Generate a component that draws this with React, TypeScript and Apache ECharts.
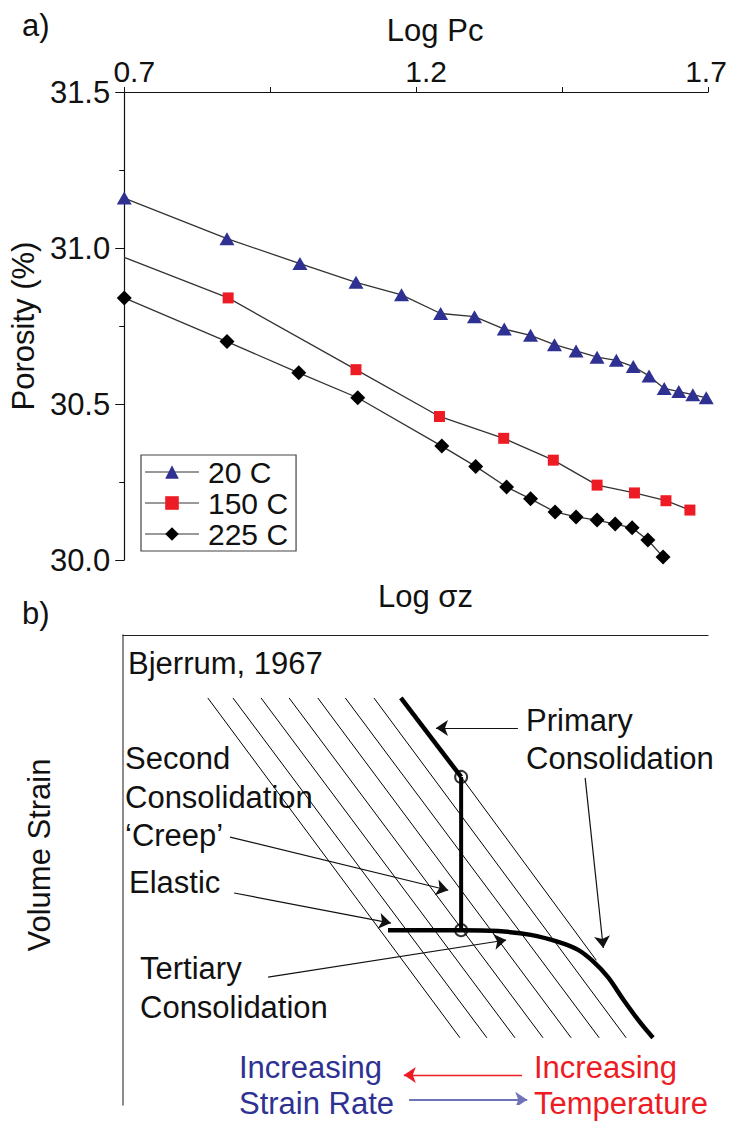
import React, { useEffect, useRef } from "react";
import * as echarts from "echarts";

// ---------- Panel a) data ----------
const seriesNames = ["20 C", "150 C", "225 C"];
const logPc20 = [0.70, 0.876, 1.001, 1.097, 1.175, 1.242, 1.300, 1.351, 1.396, 1.437, 1.474, 1.510, 1.543, 1.572, 1.599, 1.625, 1.650, 1.674, 1.697];
const porosity20 = [31.16, 31.03, 30.95, 30.89, 30.85, 30.79, 30.78, 30.74, 30.72, 30.69, 30.67, 30.65, 30.64, 30.62, 30.59, 30.55, 30.54, 30.53, 30.52];
const logPc150 = [0.70, 0.878, 1.097, 1.240, 1.350, 1.435, 1.510, 1.574, 1.628, 1.669];
const porosity150 = [30.97, 30.84, 30.61, 30.46, 30.39, 30.32, 30.24, 30.215, 30.19, 30.16];
const logPc225 = [0.70, 0.876, 0.999, 1.100, 1.244, 1.302, 1.355, 1.396, 1.438, 1.474, 1.510, 1.541, 1.570, 1.597, 1.623];
const porosity225 = [30.84, 30.70, 30.60, 30.52, 30.365, 30.30, 30.234, 30.196, 30.154, 30.138, 30.128, 30.115, 30.103, 30.064, 30.01];
const xTickLabels = ["0.7", "1.2", "1.7"];

// ---------- Panel b) schematic (Bjerrum, 1967), 0..100 schematic units ----------
const hatchTopX = [14.5, 18.8, 23.6, 28.4, 33.3, 38.0, 42.9];
const hatchBottomX = [57.6, 62.2, 67.0, 71.8, 76.6, 81.4, 86.0];
const hatchTopY = 13.4;
const hatchBottomY = 85.7;
const primaryLine = [[47.5, 13.4], [57.8, 30.2]];
const creepLine = [[57.8, 30.2], [57.8, 62.8]];
const continuationLine = [[57.8, 30.2], [80.9, 69.2]];
const tertiaryCurve = [[45.3, 62.8], [57.8, 62.8], [64.1, 63.0], [69.7, 63.8], [74.4, 65.3], [77.8, 67.0], [80.5, 69.6], [82.9, 72.8], [85.6, 77.7], [88.5, 82.6], [90.6, 85.7]];
const nodePoints = [[57.8, 30.2], [57.8, 62.8]];
const blackArrows = [
  [[67.5, 19.8], [53.5, 19.8]],
  [[79.0, 30.4], [82.1, 66.6]],
  [[18.3, 43.0], [55.6, 54.3]],
  [[19.0, 54.9], [45.8, 61.3]],
  [[24.8, 72.8], [65.5, 64.9]],
];
const tempArrow = [[68.2, 93.6], [48.0, 93.6]];
const rateArrow = [[48.9, 98.9], [69.1, 98.9]];

const FONT = "'Liberation Sans', Arial, Helvetica, sans-serif";
const BLUE = "#2e3192";
const RED = "#ed1c24";

function txt(text: string, x: number, y: number, fill = "#111", extra: any = {}) {
  return {
    type: "text",
    x,
    y,
    silent: true,
    style: {
      text,
      fill,
      font: `31px ${FONT}`,
      fontSize: 31,
      fontFamily: FONT,
      textAlign: "left",
      textVerticalAlign: "middle",
      verticalAlign: "middle",
      ...extra,
    },
  };
}

export default function App() {
  const ref = useRef<HTMLDivElement>(null);
  useEffect(() => {
    if (!ref.current) return;
    const chart = echarts.init(ref.current, undefined, { renderer: "svg" });
    const zip = (xs: number[], ys: number[]) => xs.map((x, i) => [x, ys[i]]);
    const lineCol = "#333";

    const schematicBase = {
      type: "line",
      xAxisIndex: 1,
      yAxisIndex: 1,
      symbol: "none",
      silent: true,
      z: 3,
    };

    const hatchSeries = hatchTopX.map((x, i) => ({
      ...schematicBase,
      data: [[x, hatchTopY], [hatchBottomX[i], hatchBottomY]],
      lineStyle: { color: "#000", width: 1 },
    }));

    const tickLabelStyle = { fontSize: 30, color: "#111", fontFamily: FONT };

    const option: any = {
      animation: false,
      backgroundColor: "#fff",
      textStyle: { fontFamily: FONT },
      grid: [
        { left: 123, top: 92, width: 585, height: 468 },
        { left: 123, top: 635, width: 585, height: 470 },
      ],
      xAxis: [
        {
          gridIndex: 0,
          type: "value",
          position: "top",
          min: 0.7,
          max: 1.7,
          interval: 0.25,
          name: "Log Pc",
          nameLocation: "middle",
          nameGap: 46,
          nameTextStyle: { fontSize: 31, color: "#111", fontFamily: FONT, padding: [0, 0, 0, 38] },
          axisLine: { show: true, lineStyle: { color: "#111", width: 1.2 } },
          axisTick: { show: true, inside: false, length: 5, lineStyle: { color: "#111" } },
          axisLabel: {
            show: true,
            ...tickLabelStyle,
            margin: 6,
            formatter: (v: number) => {
              const s = v.toFixed(1);
              if (xTickLabels.indexOf(s) < 0 || Math.abs(v * 100 - Math.round(v * 10) * 10) > 1) return "";
              if (s === "1.7") return `{r|${s}}`;
              return `{l|${s}}`;
            },
            rich: {
              l: { ...tickLabelStyle, padding: [0, 0, 0, 20] },
              r: { ...tickLabelStyle, padding: [0, 4, 0, 0] },
            },
          },
          splitLine: { show: false },
        },
        {
          gridIndex: 1,
          type: "value",
          position: "top",
          min: 0,
          max: 100,
          name: "Log σz",
          nameLocation: "middle",
          nameGap: 23,
          nameTextStyle: { fontSize: 31, color: "#111", fontFamily: FONT, padding: [0, 0, 0, 20] },
          axisLine: { show: true, lineStyle: { color: "#222", width: 1.2 } },
          axisTick: { show: false },
          axisLabel: { show: false },
          splitLine: { show: false },
        },
      ],
      yAxis: [
        {
          gridIndex: 0,
          type: "value",
          min: 30.0,
          max: 31.5,
          interval: 0.5,
          name: "Porosity (%)",
          nameLocation: "middle",
          nameGap: 62,
          nameTextStyle: { fontSize: 31, color: "#111", fontFamily: FONT },
          axisLine: { show: true, lineStyle: { color: "#111", width: 1.2 } },
          axisTick: { show: true, inside: false, length: 9, lineStyle: { color: "#111" } },
          minorTick: { show: true, splitNumber: 2, length: 5, lineStyle: { color: "#111" } },
          axisLabel: { ...tickLabelStyle, fontSize: 31, margin: 14, formatter: (v: number) => v.toFixed(1) },
          splitLine: { show: false },
        },
        {
          gridIndex: 1,
          type: "value",
          min: 0,
          max: 100,
          inverse: true,
          name: "Volume Strain",
          nameLocation: "middle",
          nameGap: 68,
          nameTextStyle: { fontSize: 31, color: "#111", fontFamily: FONT, padding: [0, 0, 0, 30] },
          axisLine: { show: true, lineStyle: { color: "#666", width: 1.5 } },
          axisTick: { show: false },
          axisLabel: { show: false },
          splitLine: { show: false },
        },
      ],
      legend: {
        data: seriesNames,
        orient: "vertical",
        left: 141,
        top: 455,
        width: 163,
        padding: [2, 8, 2, 3],
        itemGap: 1,
        itemWidth: 54,
        itemHeight: 17,
        backgroundColor: "#fff",
        borderColor: "#444",
        borderWidth: 1.2,
        lineStyle: { color: "#999", width: 2 },
        textStyle: { fontSize: 30, color: "#111", fontFamily: FONT, lineHeight: 29, padding: [0, 0, 0, 4] },
      },
      graphic: [
        txt("a)", 22, 25),
        txt("b)", 22, 613),
        txt("Bjerrum, 1967", 128, 663),
        txt("Primary", 526, 720),
        txt("Consolidation", 526, 758),
        txt("Second", 125, 758),
        txt("Consolidation", 125, 797),
        txt("\u2018Creep\u2019", 125, 835),
        txt("Elastic", 129, 882),
        txt("Tertiary", 140, 968),
        txt("Consolidation", 140, 1007),
        txt("Increasing", 239, 1067, BLUE),
        txt("Strain Rate", 239, 1103, BLUE),
        txt("Increasing", 534, 1067, RED),
        txt("Temperature", 534, 1103, RED),
      ],
      series: [
        {
          name: seriesNames[0],
          type: "line",
          data: zip(logPc20, porosity20),
          symbol: "triangle",
          symbolSize: [15, 13],
          itemStyle: { color: BLUE },
          lineStyle: { color: lineCol, width: 1.3 },
          z: 5,
        },
        {
          name: seriesNames[1],
          type: "line",
          data: zip(logPc150, porosity150).map((p, i) => (i === 0 ? { value: p, symbol: "none" } : p)),
          symbol: "rect",
          symbolSize: 11,
          itemStyle: { color: RED },
          lineStyle: { color: lineCol, width: 1.3 },
          z: 5,
        },
        {
          name: seriesNames[2],
          type: "line",
          data: zip(logPc225, porosity225),
          symbol: "diamond",
          symbolSize: 15,
          itemStyle: { color: "#000" },
          lineStyle: { color: lineCol, width: 1.3 },
          z: 5,
        },
        ...hatchSeries,
        { ...schematicBase, data: continuationLine, lineStyle: { color: "#000", width: 1 } },
        { ...schematicBase, data: primaryLine, lineStyle: { color: "#000", width: 4.5 }, z: 4 },
        { ...schematicBase, data: creepLine, lineStyle: { color: "#000", width: 4 }, z: 4 },
        { ...schematicBase, data: tertiaryCurve, smooth: 0.35, lineStyle: { color: "#000", width: 4.5 }, z: 4 },
        {
          type: "scatter",
          xAxisIndex: 1,
          yAxisIndex: 1,
          data: nodePoints,
          symbol: "circle",
          symbolSize: 12,
          silent: true,
          itemStyle: { color: "rgba(255,255,255,0)", borderColor: "#000", borderWidth: 2 },
          z: 6,
        },
        {
          type: "lines",
          coordinateSystem: "cartesian2d",
          xAxisIndex: 1,
          yAxisIndex: 1,
          silent: true,
          symbol: ["none", "arrow"],
          symbolSize: [8, 12],
          lineStyle: { color: "#111", width: 1.2, opacity: 1 },
          data: blackArrows.map((c) => ({ coords: c })),
          z: 5,
        },
        {
          type: "lines",
          coordinateSystem: "cartesian2d",
          xAxisIndex: 1,
          yAxisIndex: 1,
          silent: true,
          symbol: ["none", "arrow"],
          symbolSize: [8, 12],
          data: [
            { coords: tempArrow, lineStyle: { color: RED, width: 1.3, opacity: 1 } },
            { coords: rateArrow, lineStyle: { color: "#6f72b8", width: 2, opacity: 1 } },
          ],
          z: 5,
        },
      ],
    };
    chart.setOption(option);
    return () => chart.dispose();
  }, []);
  return (
    <div
      ref={ref}
      style={{ position: "fixed", left: 0, top: 0, width: 738, height: 1122, background: "#fff" }}
    />
  );
}
